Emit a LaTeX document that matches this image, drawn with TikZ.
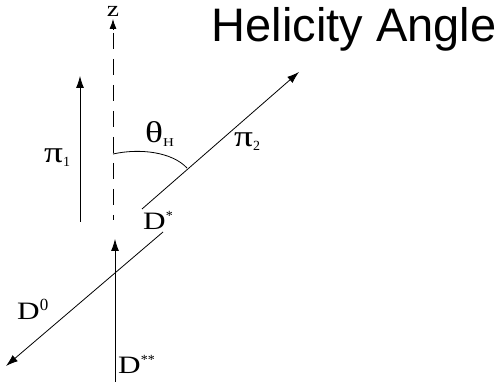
\documentclass[tikz,border=0pt]{standalone}
\usepackage{graphicx}
\usepackage{fontspec}
\setmainfont{Liberation Serif}
\newfontfamily\titlefont{Liberation Sans}
\usetikzlibrary{arrows.meta}
\newcommand{\wideit}[1]{\scalebox{1.25}[1]{#1}}
\begin{document}
\begin{tikzpicture}[x=1pt,y=-1pt,
  vec/.style={line width=0.8pt,-{Latex[length=12pt,width=8pt]}},
  thin/.style={line width=0.8pt},
  lbl/.style={inner sep=0pt,anchor=base west,font=\fontsize{25}{25}\selectfont},
  grk/.style={inner sep=0pt,anchor=base west,font=\fontsize{30}{30}\selectfont}]
\useasboundingbox (0,0) rectangle (499,382);
% title
\node[inner sep=0pt,anchor=base,font=\titlefont\fontsize{47}{47}\selectfont] (title) at (354,42) {Helicity Angle};
% z axis
\coordinate (zbot) at (113,220);
\coordinate (ztop) at (113,33);
\coordinate (ztip) at (113,19);
\draw[thin,dash pattern=on 16pt off 10pt] (ztop) -- (zbot);
\draw[line width=0.8pt,-{Latex[length=10pt,width=7pt]}] (113,30) -- (ztip);
\node[inner sep=0pt,anchor=base,font=\fontsize{22}{22}\selectfont] (zl) at (113,17) {\wideit{z}};
% pi1
\coordinate (p1a) at (80,222);
\coordinate (p1b) at (80,76);
\draw[vec] (p1a) -- (p1b);
\node[grk] (pi1) at (44,163) {\wideit{π}\textsubscript{\fontsize{14}{14}\selectfont 1}};
% pi2
\coordinate (p2a) at (142,209);
\coordinate (p2b) at (299,72);
\draw[vec] (p2a) -- (p2b);
\node[grk] (pi2) at (234,147) {\wideit{π}\textsubscript{\fontsize{14}{14}\selectfont 2}};
% theta arc
\coordinate (th0) at (113,154);
\coordinate (th1) at (187,168);
\draw[thin] (th0) .. controls (140,148) and (172,152) .. (th1);
\node[grk] (thl) at (145,143) {\wideit{θ}\textsubscript{\fontsize{12}{12}\selectfont\wideit{H}}};
% D*
\node[lbl] (dst) at (143,230) {\wideit{D}\textsuperscript{\fontsize{14}{14}\selectfont *}};
% D0 line
\coordinate (d0a) at (163,232);
\coordinate (d0b) at (6,366);
\draw[vec] (d0a) -- (d0b);
\node[lbl] (d0) at (17,320) {\wideit{D}\textsuperscript{\fontsize{17}{17}\selectfont 0}};
% D** arrow
\coordinate (dssa) at (115,383);
\coordinate (dssb) at (115,239);
\draw[vec] (dssa) -- (dssb);
\node[lbl] (dss) at (118,374) {\wideit{D}\textsuperscript{\fontsize{14}{14}\selectfont **}};
\end{tikzpicture}
\end{document}
